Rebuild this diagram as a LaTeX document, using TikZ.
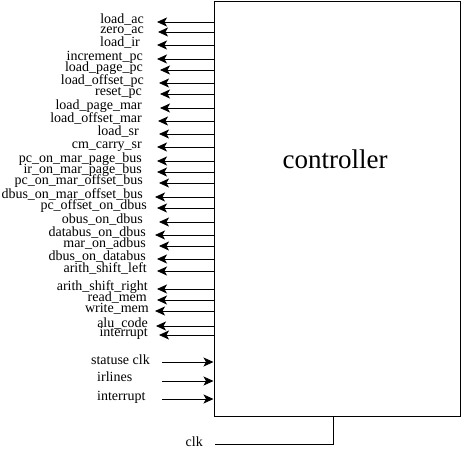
\documentclass[tikz,border=0pt]{standalone}
\usepackage{fontspec}
\setmainfont{Liberation Serif}
\usetikzlibrary{arrows.meta,positioning}

\tikzset{
    sig/.style={line width=0.8pt, -{Stealth[length=10pt,width=9pt,inset=2.5pt]}},
    sigtext/.style={font=\fontsize{14}{14}\selectfont, inner sep=0pt},
}

\begin{document}
\begin{tikzpicture}[x=1pt, y=-1pt]
    \useasboundingbox (0,0) rectangle (461,451);

    % Controller block
    \node[draw, line width=1pt, minimum width=246pt, minimum height=415pt, inner sep=0pt] (ctrl) at (337,208.5) {};
    \node[font=\fontsize{27}{30}\selectfont, anchor=base] (title) at (335,168) {controller};

    % Control outputs (y / arrow tip / label right edge / name)
    \foreach \y/\t/\r/\s [count=\i] in {
        22/157/144/load\_ac, 32/158/144/zero\_ac, 45/157/140/load\_ir,
        59/157/143/increment\_pc, 70/160/143/load\_page\_pc, 83/159/144/load\_offset\_pc,
        94/160/142/reset\_pc, 108/160/142/load\_page\_mar, 121/158/142/load\_offset\_mar,
        134/159/139/load\_sr, 147/157/142/cm\_carry\_sr, 161/157/142/pc\_on\_mar\_page\_bus,
        172/157/142/ir\_on\_mar\_page\_bus, 183/159/143/pc\_on\_mar\_offset\_bus,
        197/155/143/dbus\_on\_mar\_offset\_bus, 208/157/147/pc\_offset\_on\_dbus,
        222/159/143/obus\_on\_dbus, 235/155/146/databus\_on\_dbus, 246/159/146/mar\_on\_adbus,
        259/157/146/dbus\_on\_databus, 271/157/147/arith\_shift\_left,
        289/157/148/arith\_shift\_right, 300/157/147/read\_mem, 311/155/149/write\_mem,
        326/156/148/alu\_code, 335/159/148/interrupt} {
        \coordinate (o\i) at (\t,\y);
        \node[sigtext, anchor=base east] (ol\i) at (\r,\y+1.5) {\s};
        \draw[sig] (o\i -| ctrl.west) -- (o\i);
    }

    % Inputs
    \node[sigtext, anchor=base east] (stat) at (150,364) {statuse clk};
    \node[sigtext, anchor=base west] (irl) at (97,381) {irlines};
    \node[sigtext, anchor=base west] (intr) at (97,400) {interrupt};
    \coordinate (statin) at (162,362);
    \coordinate (irlin) at (162,381);
    \coordinate (intrin) at (162,399);
    \draw[sig] (statin) -- (statin -| ctrl.west);
    \draw[sig] (irlin) -- (irlin -| ctrl.west);
    \draw[sig] (intrin) -- (intrin -| ctrl.west);

    % Clock
    \node[sigtext, anchor=base east] (clk) at (203,446) {clk};
    \coordinate (clkin) at (215,444);
    \coordinate (clkup) at (333,444);
    \draw[line width=0.8pt] (clkin) -- (clkup) -- (clkup |- ctrl.south);
\end{tikzpicture}
\end{document}
